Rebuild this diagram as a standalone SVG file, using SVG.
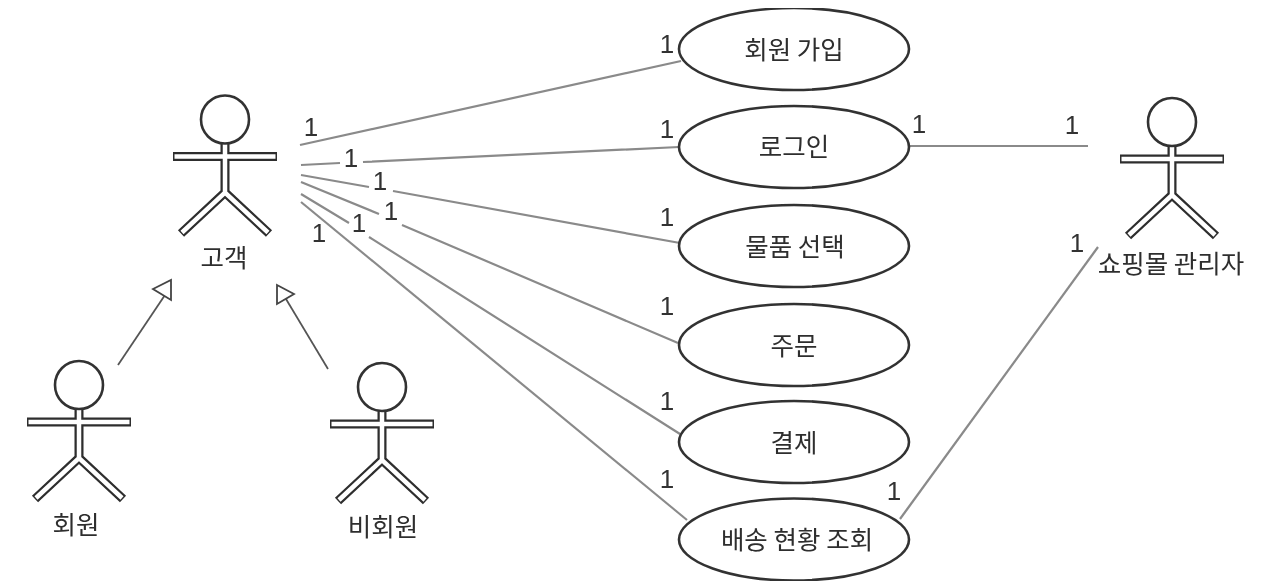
<svg xmlns="http://www.w3.org/2000/svg" width="1265" height="588" viewBox="0 0 1265 588">
<style>
text{font-family:"Noto Sans CJK KR","Liberation Sans",sans-serif;font-size:25.500px;fill:#2e2e2e;text-anchor:middle}
.n{font-family:"Liberation Sans",sans-serif;font-size:26px;fill:#333}
.uc{fill:#fff;stroke:#333;stroke-width:2.600}
.c{fill:none;stroke:#8a8a8a;stroke-width:2.200}
.g{fill:none;stroke:#555;stroke-width:1.800}
.t{fill:#fff;stroke:#444;stroke-width:1.800}
.o{fill:none;stroke:#2e2e2e;stroke-width:9}
.i{fill:none;stroke:#fff;stroke-width:4.500}
.h{fill:#fff;stroke:#333;stroke-width:2.600}
</style>
<defs>
<filter id="soft" x="0" y="0" width="100%" height="100%"><feGaussianBlur stdDeviation="0.450"/></filter>
<g id="actor">
<path class="o" d="M0 24V73M-52 37H52M-44 114L0 73L44 114"/>
<path class="i" d="M0 23V73M-50.500 37H50.500M-43 113L0 73L43 113"/>
<circle class="h" r="24"/>
</g>
</defs>
<rect width="1265" height="588" fill="#fff"/>
<g filter="url(#soft)">
<g id="connectors">
<path class="c" d="M300 145L681 61"/>
<path class="c" d="M301 165L340 163M363 162L679 147"/>
<path class="c" d="M301 175L369 187M393 191L680 243"/>
<path class="c" d="M301 182L379 214M402 225L678 343"/>
<path class="c" d="M301 194L349 223M369 237L680 434"/>
<path class="c" d="M301 202L687 520"/>
<path class="c" d="M909 146H1088"/>
<path class="c" d="M900 519L1098 247"/>
<path class="g" d="M118 365L165 295"/>
<polygon class="t" points="153,289 171,280 171,300"/>
<path class="g" d="M328 369L286 299"/>
<polygon class="t" points="277,285 294,294 277,304"/>
</g>
<g id="actor-customer"><use href="#actor" x="225" y="119.500"/><text x="224" y="267">고객</text></g>
<g id="actor-member"><use href="#actor" x="79" y="385"/><text x="76" y="534">회원</text></g>
<g id="actor-guest"><use href="#actor" x="382" y="387"/><text x="383" y="536">비회원</text></g>
<g id="actor-admin"><use href="#actor" x="1172" y="122"/><text x="1171" y="273">쇼핑몰 관리자</text></g>
<g id="uc-join"><ellipse class="uc" cx="794" cy="49" rx="115" ry="41"/><text x="794" y="59">회원 가입</text></g>
<g id="uc-login"><ellipse class="uc" cx="794" cy="147" rx="115" ry="41"/><text x="794" y="156">로그인</text></g>
<g id="uc-select"><ellipse class="uc" cx="794" cy="246" rx="115" ry="41"/><text x="795" y="256">물품 선택</text></g>
<g id="uc-order"><ellipse class="uc" cx="794" cy="345" rx="115" ry="41"/><text x="794" y="355">주문</text></g>
<g id="uc-pay"><ellipse class="uc" cx="794" cy="442" rx="115" ry="41"/><text x="794" y="452">결제</text></g>
<g id="uc-track"><ellipse class="uc" cx="794" cy="539.500" rx="115" ry="41"/><text x="797" y="549">배송 현황 조회</text></g>
<g id="multiplicities">
<text class="n" x="311" y="136">1</text>
<text class="n" x="351" y="167">1</text>
<text class="n" x="380" y="190">1</text>
<text class="n" x="391" y="220">1</text>
<text class="n" x="359" y="232">1</text>
<text class="n" x="319" y="242">1</text>
<text class="n" x="667" y="53">1</text>
<text class="n" x="667" y="138">1</text>
<text class="n" x="667" y="226">1</text>
<text class="n" x="667" y="315">1</text>
<text class="n" x="667" y="410">1</text>
<text class="n" x="667" y="488">1</text>
<text class="n" x="919" y="133">1</text>
<text class="n" x="1072" y="134">1</text>
<text class="n" x="1077" y="252">1</text>
<text class="n" x="894" y="500">1</text>
</g>
</g>
</svg>
